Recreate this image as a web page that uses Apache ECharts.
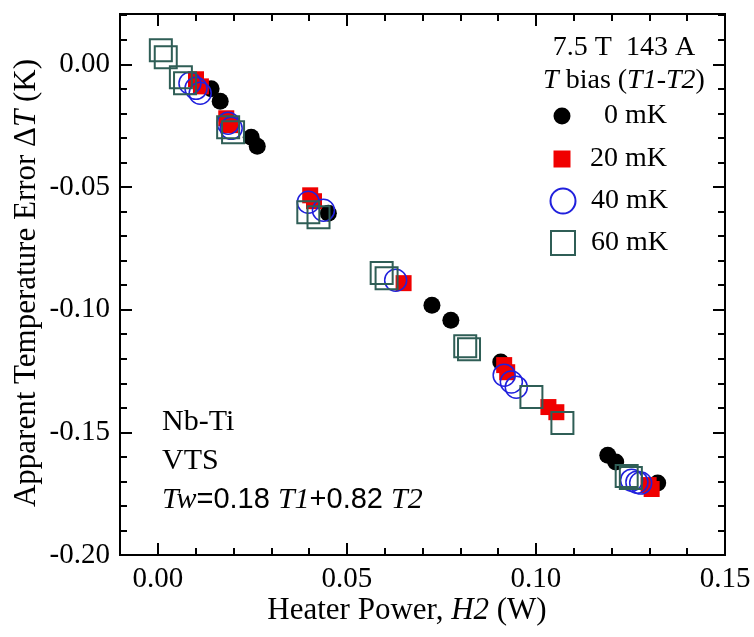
<!DOCTYPE html>
<html>
<head>
<meta charset="utf-8">
<script src="https://cdn.jsdelivr.net/npm/echarts@6/dist/echarts.min.js"></script>
<style>
  html, body { margin: 0; padding: 0; background: #fff; }
  #chart { width: 754px; height: 637px; }
</style>
</head>
<body>
<div id="chart"></div>
<script>
// T bias (T1-T2) series, [heater power W, dT K]
const bias0 = [[0.0141, -0.0100], [0.0165, -0.0151], [0.0247, -0.0297], [0.0263, -0.0334],
  [0.0451, -0.0607], [0.0725, -0.0982], [0.0775, -0.1043], [0.0907, -0.1213],
  [0.1190, -0.1593], [0.1211, -0.1621], [0.1322, -0.1707]];
const bias20 = [[0.0101, -0.0061], [0.0114, -0.0090], [0.0181, -0.0220], [0.0191, -0.0248],
  [0.0403, -0.0534], [0.0413, -0.0558], [0.0650, -0.0892], [0.0916, -0.1226], [0.0924, -0.1255],
  [0.1033, -0.1397], [0.1054, -0.1418], [0.1298, -0.1715], [0.1306, -0.1731]];
const bias40 = [[0.0085, -0.0077], [0.0101, -0.0098], [0.0112, -0.0118], [0.0186, -0.0240],
  [0.0194, -0.0261], [0.0398, -0.0562], [0.0438, -0.0595], [0.0629, -0.0880],
  [0.0916, -0.1267], [0.0935, -0.1295], [0.0948, -0.1316],
  [0.1253, -0.1695], [0.1267, -0.1703], [0.1277, -0.1707]];
const bias60 = [[0.0008, 0.0057], [0.0021, 0.0029], [0.0061, -0.0053], [0.0072, -0.0077],
  [0.0186, -0.0257], [0.0199, -0.0277], [0.0398, -0.0603], [0.0425, -0.0623],
  [0.0592, -0.0851], [0.0605, -0.0872], [0.0813, -0.1149], [0.0823, -0.1161],
  [0.0988, -0.1356], [0.1070, -0.1462], [0.1240, -0.1678], [0.1251, -0.1686]];

const seriesNames = ['0 mK', '20 mK', '40 mK', '60 mK'];

const xMajorTicks = [0, 0.05, 0.10, 0.15];
const xMinorTicks = [-0.01, 0.01, 0.02, 0.03, 0.04, 0.06, 0.07, 0.08, 0.09, 0.11, 0.12, 0.13, 0.14];
const yMajorTicks = [-0.20, -0.15, -0.10, -0.05, 0];
const yMinorTicks = [-0.19, -0.18, -0.17, -0.16, -0.14, -0.13, -0.12, -0.11, -0.09, -0.08,
  -0.07, -0.06, -0.04, -0.03, -0.02, -0.01, 0.01, 0.02];

const FONT = 'Liberation Serif';
const SANS = 'Liberation Sans';
const lineStyle = { color: '#000', width: 2 };

const chart = echarts.init(document.getElementById('chart'));

function axis(kind, pos, ticks, len, withLabels) {
  const a = {
    type: 'value',
    position: pos,
    min: kind === 'x' ? -0.01 : -0.20,
    max: kind === 'x' ? 0.15 : 0.0205,
    axisLine: { show: true, onZero: false, lineStyle: lineStyle },
    axisTick: { show: true, inside: true, length: len, customValues: ticks, lineStyle: lineStyle },
    axisLabel: { show: false },
    splitLine: { show: false }
  };
  if (withLabels) {
    a.axisLabel = {
      show: true, customValues: ticks, margin: 10,
      formatter: v => v.toFixed(2),
      fontFamily: FONT, fontSize: 29, color: '#000'
    };
  }
  return a;
}

function legendFor(name, top, size) {
  const left = 557 - size / 2;
  const textStart = left + size + 5;
  return {
    data: [name], selectedMode: false, orient: 'vertical',
    left: left, top: top - 16, itemWidth: size, itemHeight: size, itemGap: 0,
    formatter: '{a|{name}}',
    textStyle: {
      rich: { a: { width: 662 - textStart, align: 'right', fontFamily: FONT, fontSize: 28, color: '#000', lineHeight: 32 } }
    }
  };
}

const italic = size => ({ i: { fontStyle: 'italic', fontFamily: FONT, fontSize: size },
  s: { fontFamily: SANS, fontSize: size - 1 } });

const option = {
  animation: false,
  grid: { left: 120, right: 29, top: 14, bottom: 82 },
  xAxis: [
    axis('x', 'bottom', xMajorTicks, 12, true),
    axis('x', 'bottom', xMinorTicks, 7, false),
    axis('x', 'top', xMajorTicks, 12, false),
    axis('x', 'top', xMinorTicks, 7, false)
  ],
  yAxis: [
    axis('y', 'left', yMajorTicks, 12, true),
    axis('y', 'left', yMinorTicks, 7, false),
    axis('y', 'right', yMajorTicks, 12, false),
    axis('y', 'right', yMinorTicks, 7, false)
  ],
  legend: [
    legendFor(seriesNames[0], 113, 17),
    legendFor(seriesNames[1], 156, 17),
    legendFor(seriesNames[2], 198, 25),
    legendFor(seriesNames[3], 240, 24)
  ],
  series: [
    { name: seriesNames[0], type: 'scatter', data: bias0, symbol: 'circle', symbolSize: 17,
      itemStyle: { color: '#000', opacity: 1 } },
    { name: seriesNames[1], type: 'scatter', data: bias20, symbol: 'rect', symbolSize: 16,
      itemStyle: { color: '#f00000', opacity: 1 } },
    { name: seriesNames[2], type: 'scatter', data: bias40, symbol: 'circle', symbolSize: 22,
      itemStyle: { color: 'rgba(0,0,0,0)', borderColor: '#2020dd', borderWidth: 1.5, opacity: 1 } },
    { name: seriesNames[3], type: 'scatter', data: bias60, symbol: 'rect', symbolSize: 22,
      itemStyle: { color: 'rgba(0,0,0,0)', borderColor: '#2f5e56', borderWidth: 2, opacity: 1 } }
  ],
  graphic: [
    { type: 'text', x: 624, y: 48, style: {
        text: '7.5 T  143 A', fontFamily: FONT, fontSize: 28, fill: '#000', align: 'center', verticalAlign: 'middle' } },
    { type: 'text', x: 624, y: 81, style: {
        text: '{i|T} bias ({i|T1}-{i|T2})', fontFamily: FONT, fontSize: 28, fill: '#000', align: 'center', verticalAlign: 'middle',
        rich: italic(28) } },
    { type: 'text', x: 162, y: 437, style: {
        text: 'Nb-Ti', fontFamily: FONT, fontSize: 30, fill: '#000', verticalAlign: 'bottom' } },
    { type: 'text', x: 162, y: 476, style: {
        text: 'VTS', fontFamily: FONT, fontSize: 30, fill: '#000', verticalAlign: 'bottom' } },
    { type: 'text', x: 162, y: 515, style: {
        text: '{i|Tw}{s|=0.18 }{i|T1}{s|+0.82 }{i|T2}', fontFamily: FONT, fontSize: 30, fill: '#000', verticalAlign: 'bottom',
        rich: italic(30) } },
    { type: 'text', x: 407, y: 611, style: {
        text: 'Heater Power, {i|H2} (W)', fontFamily: FONT, fontSize: 31, fill: '#000', align: 'center', verticalAlign: 'middle',
        rich: italic(31) } },
    { type: 'text', x: 27, y: 283, rotation: Math.PI / 2, style: {
        text: 'Apparent Temperature Error \u0394{i|T} (K)', fontFamily: FONT, fontSize: 31, fill: '#000', align: 'center', verticalAlign: 'middle',
        rich: italic(31) } }
  ]
};

chart.setOption(option);
</script>
</body>
</html>
